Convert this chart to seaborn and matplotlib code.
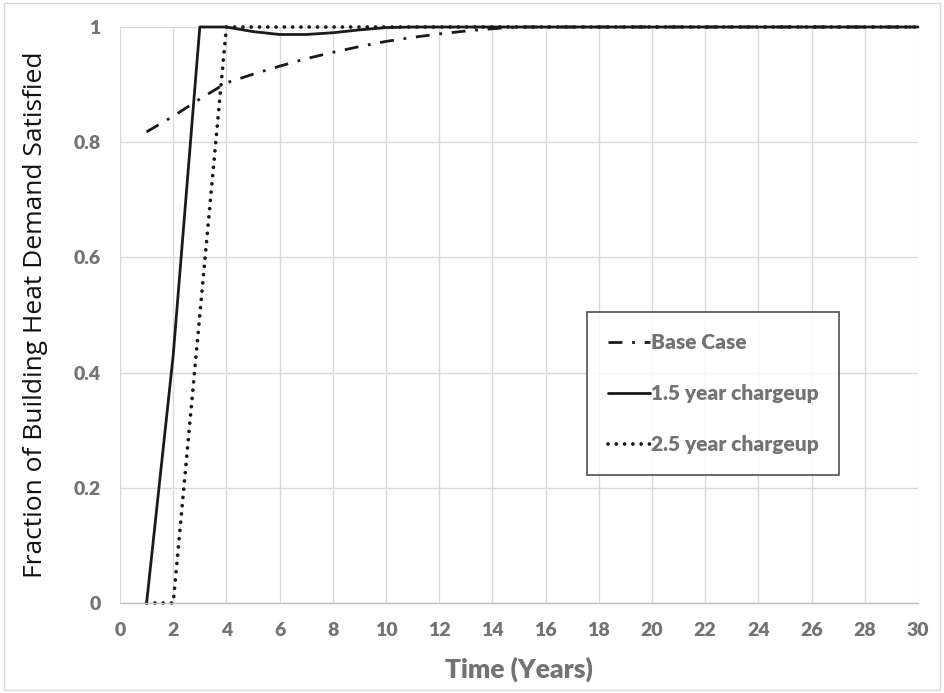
import numpy as np
import pandas as pd
import matplotlib
matplotlib.use("Agg")
import matplotlib.pyplot as plt
import seaborn as sns
from matplotlib.patches import Rectangle

years = list(range(1, 31))
base_case = [0.818, 0.845, 0.875, 0.903, 0.918, 0.932, 0.945, 0.956, 0.966, 0.975,
             0.982, 0.988, 0.993, 0.997, 1.0] + [1.0] * 15
charge_15 = [0.0, 0.43, 1.0, 1.0, 0.992, 0.987, 0.987, 0.99, 0.995, 0.999] + [1.0] * 20
charge_25 = [0.0, 0.0, 0.5, 1.0] + [1.0] * 26
series_names = ["Base Case", "1.5 year chargeup", "2.5 year chargeup"]
x_ticks = list(range(0, 31, 2))
y_ticks = [0, 0.2, 0.4, 0.6, 0.8, 1]
y_tick_labels = ["0", "0.2", "0.4", "0.6", "0.8", "1"]

df = pd.DataFrame({
    "Time": years * 3,
    "Value": base_case + charge_15 + charge_25,
    "Series": sum([[n] * len(years) for n in series_names], []),
})

sns.set_style("white")
plt.rcParams["font.family"] = ["Lato", "DejaVu Sans"]
plt.rcParams["font.weight"] = "heavy"

fig = plt.figure(figsize=(9.44, 6.93), dpi=100)
ax = fig.add_axes([120 / 944, 1 - 603 / 693, (918 - 120) / 944, (603 - 27) / 693])

gray = "#737373"
styles = {
    "Base Case": dict(dashes=(5, 3.5, 1, 3.5), dash_capstyle="butt", linewidth=2.0),
    "1.5 year chargeup": dict(linestyle="-", linewidth=2.0),
    "2.5 year chargeup": dict(dashes=(0.01, 2.2), dash_capstyle="round", linewidth=2.7),
}
for name in series_names:
    sub = df[df["Series"] == name]
    sns.lineplot(data=sub, x="Time", y="Value", ax=ax, color="#1a1a1a",
                 label=name, clip_on=False, **styles[name])

ax.set_xlim(0, 30)
ax.set_ylim(0, 1)
ax.grid(True, color="#d9d9d9", linewidth=1.0)
ax.set_axisbelow(True)
for s in ["top", "right", "left"]:
    ax.spines[s].set_visible(False)
ax.spines["bottom"].set_color("#bfbfbf")
ax.spines["bottom"].set_linewidth(1.0)
ax.tick_params(axis="both", length=0, pad=14, labelsize=14, labelcolor=gray)
ax.set_xticks(x_ticks)
ax.set_xticklabels([str(v) for v in x_ticks])
ax.set_yticks(y_ticks)
ax.set_yticklabels(y_tick_labels)

ax.set_xlabel("Time (Years)", fontsize=19, fontweight="heavy", color=gray, labelpad=12)
ax.set_ylabel("Fraction of Building Heat Demand Satisfied", fontsize=19, fontweight="normal",
              color="#111111", labelpad=18, fontfamily=["Open Sans", "DejaVu Sans"])

leg = ax.legend(loc="upper left", bbox_to_anchor=(587 / 944, 1 - 312 / 693),
                bbox_transform=fig.transFigure, frameon=True, fancybox=False,
                fontsize=15, handlelength=2.0, handletextpad=0.05,
                labelspacing=1.55, borderpad=1.0, borderaxespad=0)
leg.get_frame().set_edgecolor("#222222")
leg.get_frame().set_linewidth(1.2)
for t in leg.get_texts():
    t.set_color(gray)
    t.set_fontweight("heavy")

fig.patches.append(Rectangle((0.004, 0.004), 0.992, 0.992, transform=fig.transFigure,
                             fill=False, edgecolor="#d9d9d9", linewidth=1.0))

fig.savefig("out.png", dpi=100)
